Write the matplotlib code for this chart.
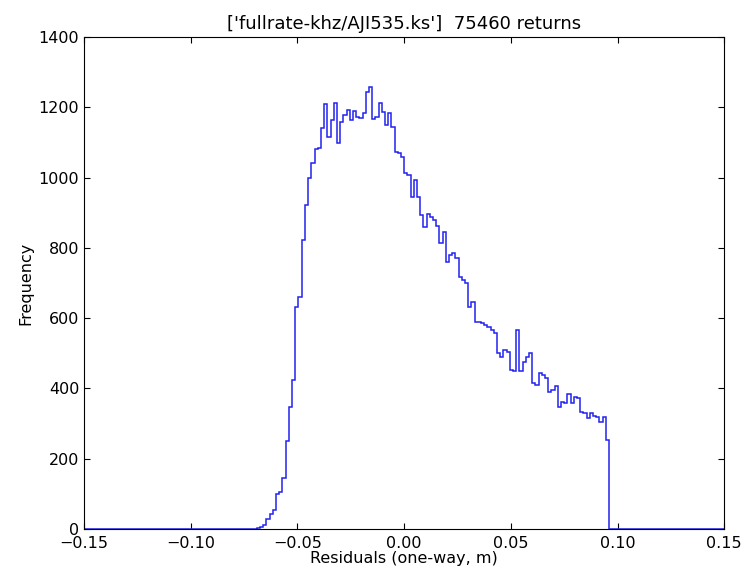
import numpy as np
import matplotlib
matplotlib.use("Agg")
import matplotlib.pyplot as plt

# histogram of residuals: 200 bins over [-0.15, 0.15]
binLo, binHi, nBins = -0.15, 0.15, 200
firstBin = 54  # index of first non-empty bin

# counts, bins 54..163
counts = [
    2, 6, 12, 28, 42, 55, 100, 105, 145, 250,
    348, 424, 633, 661, 822, 922, 999, 1041, 1081, 1085,
    1141, 1209, 1116, 1164, 1212, 1098, 1159, 1178, 1192, 1164,
    1190, 1173, 1170, 1183, 1245, 1259, 1167, 1173, 1213, 1188,
    1150, 1185, 1145, 1074, 1070, 1060, 1012, 1007, 946, 993,
    946, 894, 860, 898, 889, 880, 862, 813, 846, 761,
    780, 785, 770, 718, 709, 700, 633, 647, 590, 588,
    585, 580, 575, 566, 557, 500, 490, 509, 505, 452,
    451, 566, 451, 476, 490, 500, 415, 410, 443, 438,
    429, 391, 395, 407, 348, 362, 358, 384, 358, 375,
    372, 334, 329, 315, 329, 322, 318, 305, 318, 253,
]

title = "['fullrate-khz/AJI535.ks']  75460 returns"
xTicks = [-0.15, -0.10, -0.05, 0.00, 0.05, 0.10, 0.15]
yTicks = [0, 200, 400, 600, 800, 1000, 1200, 1400]

edges = np.linspace(binLo, binHi, nBins + 1)
allCounts = np.zeros(nBins)
allCounts[firstBin:firstBin + len(counts)] = counts

plt.rcParams["font.family"] = "DejaVu Sans"
plt.rcParams["font.size"] = 11.5
plt.rcParams["xtick.direction"] = "in"
plt.rcParams["ytick.direction"] = "in"
plt.rcParams["xtick.top"] = True
plt.rcParams["ytick.right"] = True
plt.rcParams["xtick.major.size"] = 4
plt.rcParams["ytick.major.size"] = 4
plt.rcParams["xtick.major.pad"] = 5

fig = plt.figure(figsize=(7.47, 5.73), dpi=100)
ax = fig.add_axes([0.1125, 0.077, 0.857, 0.858])

ax.hist(edges[:-1], bins=edges, weights=allCounts, histtype="step",
        color="#2222ee", linewidth=1.1)

ax.set_xlim(binLo, binHi)
ax.set_ylim(0, 1400)
ax.set_xticks(xTicks)
# use a real minus sign like the original
ax.set_xticklabels([("%.2f" % t).replace("-", "\u2212") for t in xTicks])
ax.set_yticks(yTicks)
ax.set_xlabel("Residuals (one-way, m)", labelpad=0)
ax.set_ylabel("Frequency")
ax.set_title(title, fontsize=13)

fig.savefig("out.png", dpi=100)
